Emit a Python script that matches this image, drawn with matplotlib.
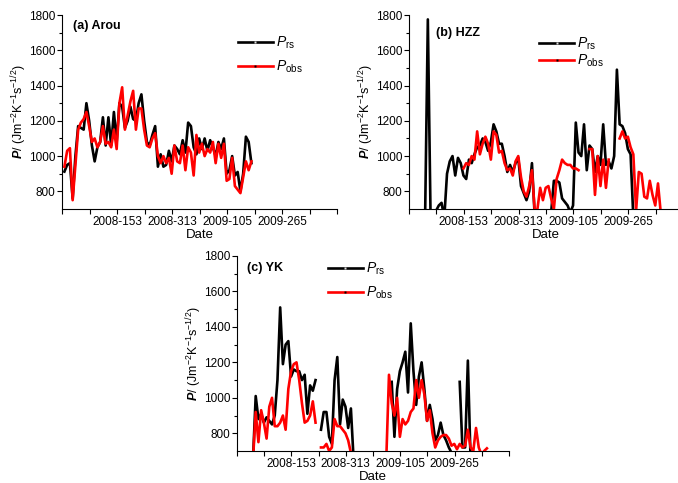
import numpy as np
import matplotlib
matplotlib.use('Agg')
import matplotlib.pyplot as plt
from matplotlib import rcParams
from matplotlib.lines import Line2D

rcParams['font.family'] = ['Liberation Sans', 'DejaVu Sans']
rcParams['mathtext.fontset'] = 'custom'
rcParams['mathtext.rm'] = 'Liberation Sans'
rcParams['mathtext.it'] = 'Liberation Sans:italic'
rcParams['mathtext.bf'] = 'Liberation Sans:bold'
rcParams['mathtext.bfit'] = 'Liberation Sans:bold:italic'
rcParams['axes.unicode_minus'] = False

nan = np.nan

# 8-day composites, day counted from 2008-001
a_rs = [912, 950, 960, 760, 1000, 1170, 1160, 1150, 1300, 1200,
        1060, 970, 1050, 1080, 1220, 1060, 1220, 1060, 1250, 1080,
        1300, 1280, 1160, 1200, 1280, 1210, 1200, 1300, 1350, 1200,
        1080, 1060, 1120, 1170, 940, 1010, 940, 950, 1030, 970,
        1060, 1040, 1010, 1090, 1020, 1190, 1170, 1050, 1010, 1100,
        1040, 1100, 1030, 1090, 1050, 1000, 1080, 1040, 1100, 900,
        920, 1000, 890, 910, 800, 900, 1110, 1080, 960]
a_obs = [940, 1030, 1045, 750, 950, 1150, 1190, 1210, 1250, 1170,
         1080, 1100, 1050, 1080, 1170, 1070, 1080, 1050, 1150, 1040,
         1300, 1390, 1150, 1230, 1310, 1370, 1150, 1270, 1270, 1150,
         1060, 1050, 1100, 1130, 1000, 960, 1000, 960, 990, 900,
         1060, 970, 960, 1060, 920, 1050, 1020, 890, 1120, 1020,
         1070, 1000, 1040, 1020, 1080, 960, 1070, 990, 1070, 860,
         870, 990, 830, 810, 790, 880, 970, 920, 970]

b_rs = [nan, nan, nan, nan, nan, 650, 1775, 650, nan, 690,
        720, 735, 650, 900, 970, 1000, 890, 990, 960, 890,
        870, 980, 960, 1010, 1050, 1060, 1100, 1080, 1030, 1080,
        1180, 1140, 1070, 1070, 1000, 910, 950, 910, 960, 990,
        830, 790, 750, 800, 960, 660, nan, nan, nan, nan,
        nan, 680, 860, 860, 850, 760, 740, 720, 680, 720,
        1190, 1020, 1000, 1180, 920, 1060, 1040, 910, 1000, 950,
        1180, 950, 970, 930, 1000, 1490, 1180, 1170, 1130, 1040,
        1010, 650, nan, nan, nan, nan, nan, nan, nan, nan,
        nan, nan]
b_obs = [nan, nan, nan, nan, nan, nan, nan, nan, nan, nan,
         nan, nan, nan, nan, nan, nan, nan, nan, nan, 930,
         960, 950, 1000, 980, 1140, 1010, 1070, 1110, 1070, 980,
         1140, 1120, 1020, 1030, 960, 920, 930, 890, 970, 1000,
         880, 800, 770, 830, 920, 690, 700, 820, 750, 820,
         830, 760, 700, 870, 920, 980, 960, 950, 950, 930,
         930, 920, nan, nan, nan, 1040, 1040, 780, 1000, 830,
         980, 820, 980, nan, nan, nan, 1100, 1140, 1100, 1110,
         1050, 1010, 690, 910, 900, 770, 760, 860, 780, 720,
         845, 680]

c_rs = [nan, nan, nan, nan, nan, 650, 1010, 880, 910, 860,
        890, 870, 850, 900, 1100, 1510, 1190, 1300, 1320, 1120,
        1160, 1150, 1150, 1100, 1130, 910, 1070, 1040, 1100, nan,
        820, 920, 920, 780, 740, 1100, 1230, 850, 990, 950,
        830, 940, 650, nan, nan, nan, nan, nan, nan, nan,
        nan, nan, nan, nan, nan, nan, 1090, 780, 1050, 1150,
        1200, 1260, 1030, 1420, 1150, 960, 1120, 1200, 1050, 870,
        960, 880, 760, 790, 860, 790, 760, 720, 690, nan,
        nan, 1090, 720, 720, 1210, 650, nan, nan, nan, nan,
        nan, nan]
c_obs = [nan, nan, nan, nan, nan, 650, 920, 750, 930, 860,
         770, 950, 1000, 840, 840, 860, 900, 820, 1050, 1150,
         1190, 1200, 1100, 970, 860, 870, 900, 980, 860, nan,
         720, 720, 740, 700, 720, 880, 840, 840, 820, 800,
         760, 690, nan, nan, nan, nan, nan, nan, nan, nan,
         nan, nan, nan, nan, 650, 1130, 970, 900, 1000, 780,
         880, 850, 870, 920, 940, 1100, 1000, 1100, 1020, 870,
         930, 800, 720, 760, 780, 790, 790, 770, 730, 740,
         710, 740, 720, 730, 820, 720, 700, 830, 720, 680,
         700, 715]

tick_pos = [153, 313, 473, 633]
tick_lab = ['2008-153', '2008-313', '2009-105', '2009-265']
minor_pos = [-7, 73, 233, 393, 553, 713, 793]

panels = [
    ('(a) Arou', a_rs, a_obs, [62, 15, 337, 209], (0.04, 0.943), (0.64, 0.90), 0.55),
    ('(b) HZZ', b_rs, b_obs, [409, 15, 683, 209], (0.10, 0.907), (0.475, 0.895), 0.05),
    ('(c) YK', c_rs, c_obs, [237, 256, 509, 451], (0.037, 0.938), (0.335, 0.975), 0.55),
]

W, H = 678, 483
fig = plt.figure(figsize=(W / 100, H / 100), dpi=100)

for title, rs, obs, box, tpos, lpos, lsp in panels:
    x0, y0, x1, y1 = box
    ax = fig.add_axes([x0 / W, 1 - y1 / H, (x1 - x0) / W, (y1 - y0) / H])
    days = np.arange(len(rs)) * 8
    ax.plot(days, rs, color='black', lw=1.9, zorder=3)
    ax.plot(days, obs, color='red', lw=1.9, zorder=4)

    ax.set_xlim(-7, 793)
    ax.set_ylim(700, 1800)
    ax.set_xticks(tick_pos)
    ax.set_xticklabels(tick_lab)
    ax.set_xticks(minor_pos, minor=True)
    ax.set_yticks(np.arange(800, 1801, 200))
    ax.set_yticks(np.arange(900, 1800, 200), minor=True)
    ax.tick_params(which='both', direction='out', labelsize=8.5, pad=1.5, width=0.8)
    ax.tick_params(which='major', length=3.5)
    ax.tick_params(which='minor', length=3.5)
    ax.tick_params(axis='y', which='minor', length=2)
    ax.spines['top'].set_visible(False)
    ax.spines['right'].set_visible(False)
    ax.spines['left'].set_linewidth(0.8)
    ax.spines['bottom'].set_linewidth(0.8)

    ax.set_xlabel('Date', fontsize=9.5, labelpad=1)
    ax.set_ylabel(r'$\mathbfit{P}$/ (Jm$^{-2}$K$^{-1}$s$^{-1/2}$)', fontsize=9, labelpad=0)

    ax.text(tpos[0], tpos[1], title, transform=ax.transAxes, fontsize=9,
            fontweight='bold', va='center', ha='left')

    handles = [
        Line2D([], [], color='black', lw=1.9, marker='s', ms=1.6, mfc='#dddddd', mec='none'),
        Line2D([], [], color='red', lw=1.9, marker='s', ms=1.6, mfc='black', mec='none'),
    ]
    ax.legend(handles, [r'$P_{\mathrm{rs}}$', r'$P_{\mathrm{obs}}$'], loc='upper left',
              bbox_to_anchor=lpos, frameon=False, fontsize=10, handlelength=2.5,
              handletextpad=0.2, borderpad=0, borderaxespad=0, labelspacing=lsp,
              numpoints=1)

fig.savefig('out.png', dpi=100)
